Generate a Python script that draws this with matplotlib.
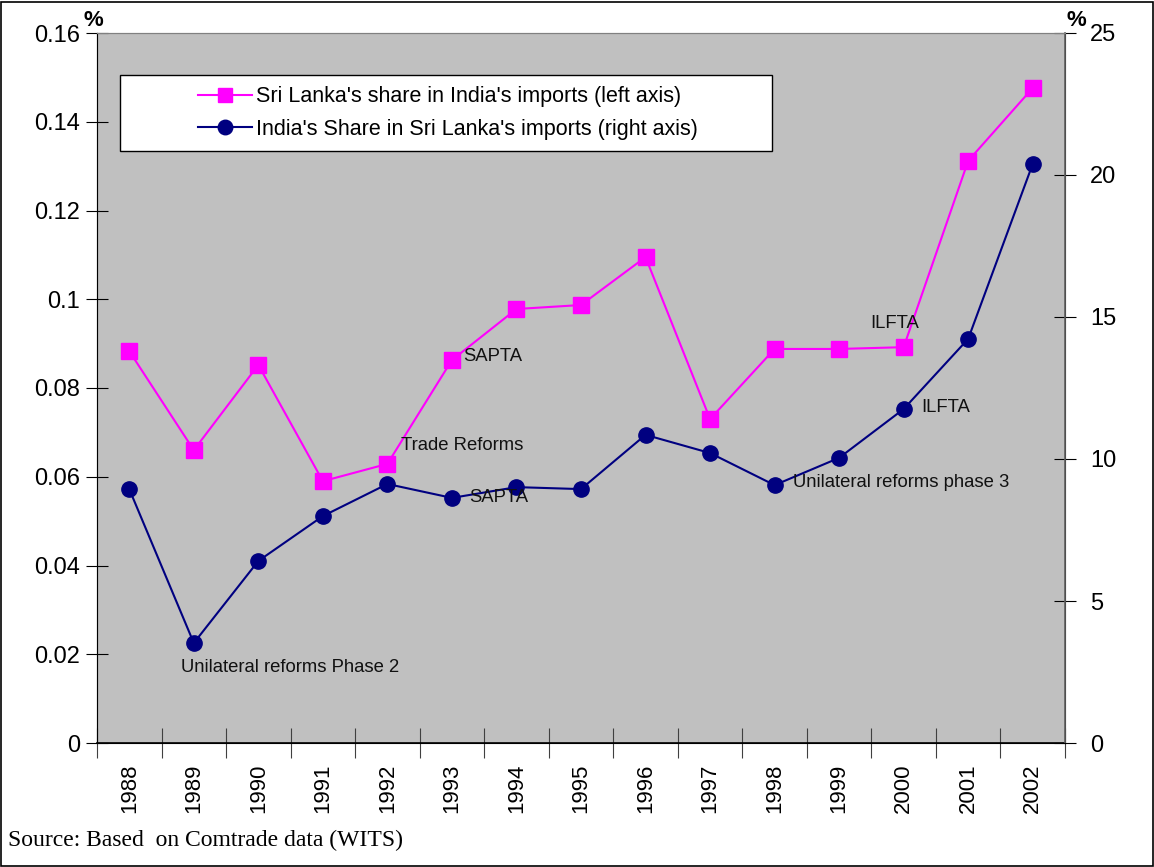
import matplotlib.pyplot as plt
from matplotlib.patches import Rectangle
from matplotlib.ticker import FuncFormatter

plt.rcParams['font.family'] = ['Liberation Sans', 'DejaVu Sans']

years = ['1988', '1989', '1990', '1991', '1992', '1993', '1994', '1995',
         '1996', '1997', '1998', '1999', '2000', '2001', '2002']
# Sri Lanka's share in India's imports (left axis)
sl_share = [0.0883, 0.0660, 0.0852, 0.0590, 0.0629, 0.0863, 0.0978, 0.0987,
            0.1095, 0.0730, 0.0888, 0.0888, 0.0892, 0.1312, 0.1476]
# India's share in Sri Lanka's imports (right axis)
in_share = [8.94, 3.52, 6.41, 7.99, 9.12, 8.63, 9.01, 8.94,
            10.85, 10.21, 9.08, 10.04, 11.76, 14.23, 20.39]

W, H = 1154, 867
fig = plt.figure(figsize=(W / 100, H / 100), dpi=100)
fig.patches.append(Rectangle((0.001, 0.001), 0.998, 0.997, transform=fig.transFigure,
                             fill=False, edgecolor='black', linewidth=1.2))

L, R, T, B = 97, 1065, 33, 743
ax = fig.add_axes([L / W, 1 - B / H, (R - L) / W, (B - T) / H])
ax.set_facecolor('#C0C0C0')
ax2 = ax.twinx()

x = list(range(len(years)))
l1, = ax.plot(x, sl_share, color='#FF00FF', marker='s', markersize=11,
              linewidth=1.5, label="Sri Lanka's share in India's imports (left axis)")
l2, = ax2.plot(x, in_share, color='#000080', marker='o', markersize=11,
               linewidth=1.5, label="India's Share in Sri Lanka's imports (right axis)")

ax.set_xlim(-0.5, len(years) - 0.5)
ax.set_ylim(0, 0.16)
ax2.set_ylim(0, 25)

ax.set_yticks([0, 0.02, 0.04, 0.06, 0.08, 0.1, 0.12, 0.14, 0.16])
ax.yaxis.set_major_formatter(FuncFormatter(lambda v, p: '{:g}'.format(round(v, 2))))
ax2.set_yticks([0, 5, 10, 15, 20, 25])

ax.set_xticks([i - 0.5 for i in range(len(years) + 1)])
ax.set_xticklabels([])
ax.set_xticks(x, minor=True)
ax.set_xticklabels(years, minor=True, rotation=90, fontsize=16)
ax.tick_params(axis='x', which='major', direction='inout', length=22, width=0.8, color='#404040')
ax.tick_params(axis='x', which='minor', length=0, pad=15)
ax.tick_params(axis='y', direction='inout', length=16, width=0.8, labelsize=17, pad=4)
ax2.tick_params(axis='y', direction='inout', length=16, width=0.8, labelsize=17, pad=10)

ax.spines['top'].set_color('#808080')
ax2.spines['top'].set_color('#808080')
ax.spines['bottom'].set_color('black')
ax.spines['bottom'].set_linewidth(1.2)
ax2.spines['right'].set_color('#606060')
ax2.spines['right'].set_linewidth(1.2)
ax.spines['left'].set_color('#606060')

fig.text(93 / W, 1 - 21 / H, '%', fontsize=16, fontweight='bold', ha='center', va='center')
fig.text(1076 / W, 1 - 21 / H, '%', fontsize=16, fontweight='bold', ha='center', va='center')

# legend box drawn by hand, entries centred inside it
bx0, bx1, by0, by1 = 120, 772, 75, 151
ax2.add_patch(Rectangle(((bx0 - L) / (R - L), (B - by1) / (B - T)),
                        (bx1 - bx0) / (R - L), (by1 - by0) / (B - T),
                        transform=ax2.transAxes, facecolor='white',
                        edgecolor='black', linewidth=1.0, zorder=4))
leg = ax2.legend(handles=[l1, l2], loc='center',
                 bbox_to_anchor=(((bx0 + bx1) / 2 + 2 - L) / (R - L),
                                 (B - (by0 + by1) / 2) / (B - T)),
                 fontsize=15.5, frameon=False, borderpad=0,
                 handlelength=2.5, handletextpad=0.2, labelspacing=0.55,
                 borderaxespad=0, markerscale=0.95)
leg.set_zorder(5)

notes = [
    ('SAPTA', 463, 357),
    ('Trade Reforms', 401, 446),
    ('SAPTA', 469, 497),
    ('ILFTA', 870, 324),
    ('ILFTA', 921, 408),
    ('Unilateral reforms phase 3', 793, 483),
    ('Unilateral reforms Phase 2', 181, 667),
]
for txt, px, py in notes:
    ax2.text((px - L) / (R - L), (B - py) / (B - T), txt, transform=ax2.transAxes,
             fontsize=13.3, ha='left', va='center', color='#111111')

fig.text(8 / W, 1 - 840 / H, 'Source: Based  on Comtrade data (WITS)',
         family=['Liberation Serif', 'DejaVu Serif'], fontsize=17, ha='left', va='center')

fig.savefig('out.png', dpi=100)
